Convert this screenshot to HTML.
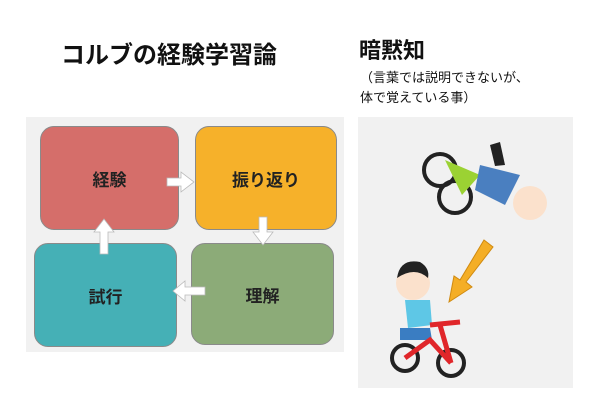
<!DOCTYPE html>
<html><head><meta charset="utf-8"><style>
body{margin:0;width:614px;height:417px;background:#fff;position:relative;overflow:hidden;font-family:"Liberation Sans","Noto Sans CJK JP",sans-serif}
.a{position:absolute}
.b{position:absolute;border-radius:14px;border:1px solid #8a8a8a;display:flex;align-items:center;justify-content:center;font-size:17px;font-weight:bold;color:#222}
</style></head><body>
<div class="a" style="left:61px;top:42px;font-size:24px;font-weight:bold;color:#111;line-height:28px">コルブの経験学習論</div>
<div class="a" style="left:359px;top:38px;font-size:22px;font-weight:bold;color:#111;line-height:26px">暗黙知</div>
<div class="a" style="left:360px;top:68px;font-size:13px;line-height:20px;color:#111">（言葉では説明できないが、<br>体で覚えている事）</div>
<div class="a" style="left:26px;top:117px;width:318px;height:235px;background:#f1f1f1"></div>
<div class="b" style="left:40px;top:126px;width:137px;height:102px;background:#d56e6a">経験</div>
<div class="b" style="left:195px;top:126px;width:140px;height:102px;background:#f6b12a">振り返り</div>
<div class="b" style="left:34px;top:243px;width:141px;height:102px;background:#45b0b6">試行</div>
<div class="b" style="left:191px;top:243px;width:141px;height:100px;background:#8cab78">理解</div>
<svg class="a" style="left:0;top:0" width="614" height="417">
<g fill="#fff" stroke="#bbb" stroke-width="0.8">
<polygon points="167,178 181,178 181,172 194,182 181,192 181,186 167,186"/>
<polygon points="259,217 267,217 267,232 273,232 263,245 253,232 259,232"/>
<polygon points="205,287 185,287 185,281 173,291 185,301 185,295 205,295"/>
<polygon points="100,254 108,254 108,232 114,232 104,219 94,232 100,232"/>
</g>
<rect x="358" y="117" width="215" height="271" fill="#f1f1f1"/>
<polygon points="484,240 493,247 466,282 472,287 449,302 454,276 460,280" fill="#f4ae26" stroke="#d08a10"/>
<circle cx="440" cy="170" r="16" fill="none" stroke="#222" stroke-width="4"/>
<circle cx="455" cy="197" r="16" fill="none" stroke="#222" stroke-width="4"/>
<path d="M445,160 L480,175 L462,195 Z" fill="#9bd233"/>
<path d="M480,165 L520,175 L505,205 L475,190 Z" fill="#4a7fc0"/>
<circle cx="530" cy="203" r="17" fill="#fbe1cc"/>
<path d="M490,145 L500,142 L505,165 L495,166Z" fill="#222"/>
<circle cx="413" cy="283" r="17" fill="#fbe1cc"/>
<path d="M397,278 Q400,258 420,262 Q430,268 428,278 Q415,266 397,278Z" fill="#222"/>
<path d="M405,300 L430,300 L432,325 L408,328Z" fill="#5ec7e6"/>
<path d="M400,328 L430,328 L432,340 L400,340Z" fill="#3a7dc2"/>
<circle cx="405" cy="358" r="13" fill="none" stroke="#222" stroke-width="4"/>
<circle cx="451" cy="363" r="13" fill="none" stroke="#222" stroke-width="4"/>
<path d="M405,358 L430,340 L451,363 M440,325 L451,363 M430,325 L460,322" stroke="#e0262a" stroke-width="5" fill="none"/>
</svg>
</body></html>
